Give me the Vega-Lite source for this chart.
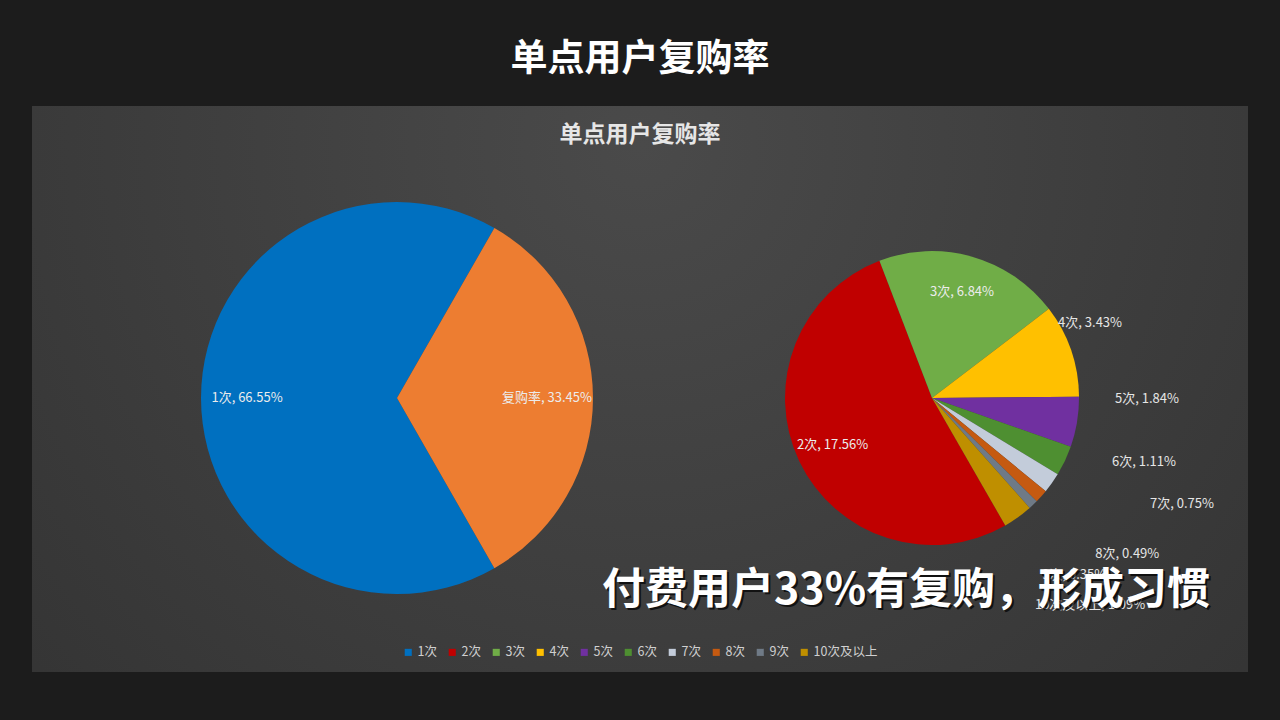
{
  "$schema": "https://vega.github.io/schema/vega-lite/v6.json",
  "width": 1280,
  "height": 720,
  "autosize": {"type": "fit", "contains": "padding"},
  "padding": {"top": 41, "left": 32, "right": 32, "bottom": 48},
  "background": "#1c1c1c",
  "config": {
    "view": {
      "fill": {"gradient": "radial", "x1": 0.5, "y1": 0.3, "r1": 0, "x2": 0.5, "y2": 0.3, "r2": 0.75, "stops": [{"offset": 0, "color": "#4a4a4a"}, {"offset": 1, "color": "#323232"}]},
      "stroke": null
    },
    "font": "Noto Sans CJK SC",
    "legend": {"layout": {"bottom": {"anchor": "middle"}}}
  },
  "title": {
    "text": "单点用户复购率",
    "subtitle": "单点用户复购率",
    "fontSize": 37,
    "fontWeight": "bold",
    "color": "#ffffff",
    "font": "Noto Sans CJK SC",
    "subtitleFontSize": 23,
    "subtitleFontWeight": "bold",
    "subtitleColor": "#e6e6e6",
    "subtitleFont": "Noto Sans CJK SC",
    "subtitlePadding": 45,
    "offset": -42,
    "anchor": "middle",
    "frame": "group"
  },
  "resolve": {"scale": {"theta": "independent"}},
  "layer": [
    {
      "data": {
        "values": [
          {"cat": "1次", "value": 66.55, "label": "1次, 66.55%"},
          {"cat": "复购率", "value": 33.45, "label": "复购率, 33.45%"}
        ]
      },
      "encoding": {
        "theta": {"field": "value", "type": "quantitative", "stack": true, "scale": {"range": [0.520, 6.803]}},
        "order": {"field": "value", "type": "quantitative", "sort": "ascending"},
        "detail": {"field": "cat"},
        "x": {"datum": "总体", "type": "nominal", "scale": {"type": "point", "domain": ["总体", "复购"], "padding": 0.6364, "align": 0.536}, "axis": null},
        "y": {"datum": "中", "type": "nominal", "scale": {"type": "point", "align": 0.516}, "axis": null}
      },
      "layer": [
        {
          "mark": {"type": "arc", "outerRadius": 196, "stroke": null},
          "encoding": {
            "color": {
              "field": "cat",
              "type": "nominal",
              "scale": {
                "domain": ["1次", "2次", "3次", "4次", "5次", "6次", "7次", "8次", "9次", "10次及以上", "复购率"],
                "range": ["#0070C0", "#C00000", "#70AD47", "#FFC000", "#7030A0", "#4E8F31", "#C3CCDA", "#C55A11", "#6F7A86", "#BF8F00", "#ED7D31"]
              },
              "legend": {
                "values": ["1次", "2次", "3次", "4次", "5次", "6次", "7次", "8次", "9次", "10次及以上"],
                "orient": "bottom",
                "direction": "horizontal",
                "offset": -26,
                "title": null,
                "symbolType": "square",
                "symbolSize": 50,
                "symbolStrokeWidth": 0,
                "labelColor": "#d0d0d0",
                "labelFontSize": 12.5,
                "labelFont": "Noto Sans CJK SC",
                "labelOffset": 3,
                "columnPadding": 9
              }
            }
          }
        },
        {
          "mark": {"type": "text", "radius": 150, "fontSize": 13, "color": "#ececec", "font": "Noto Sans CJK SC"},
          "encoding": {"text": {"field": "label"}}
        }
      ]
    },
    {
      "data": {
        "values": [
          {"cat": "2次", "n": 2, "value": 17.56, "label": "2次, 17.56%"},
          {"cat": "3次", "n": 3, "value": 6.84, "label": "3次, 6.84%"},
          {"cat": "4次", "n": 4, "value": 3.43, "label": "4次, 3.43%"},
          {"cat": "5次", "n": 5, "value": 1.84, "label": "5次, 1.84%"},
          {"cat": "6次", "n": 6, "value": 1.11, "label": "6次, 1.11%"},
          {"cat": "7次", "n": 7, "value": 0.75, "label": "7次, 0.75%"},
          {"cat": "8次", "n": 8, "value": 0.49, "label": "8次, 0.49%"},
          {"cat": "9次", "n": 9, "value": 0.35, "label": "9次, 0.35%"},
          {"cat": "10次及以上", "n": 10, "value": 1.09, "label": "10次及以上, 1.09%"}
        ]
      },
      "encoding": {
        "theta": {"field": "value", "type": "quantitative", "stack": true, "scale": {"range": [2.620, 8.903]}},
        "order": {"field": "n", "type": "quantitative", "sort": "ascending"},
        "detail": {"field": "cat"},
        "x": {"datum": "复购", "type": "nominal", "scale": {"type": "point", "domain": ["总体", "复购"], "padding": 0.6364, "align": 0.536}, "axis": null},
        "y": {"datum": "中", "type": "nominal", "scale": {"type": "point", "align": 0.516}, "axis": null}
      },
      "layer": [
        {
          "mark": {"type": "arc", "outerRadius": 147, "stroke": null},
          "encoding": {"color": {"field": "cat", "type": "nominal"}}
        },
        {
          "mark": {"type": "text", "radius": 110, "fontSize": 13, "color": "#ececec"},
          "encoding": {"text": {"condition": {"test": "datum.n <= 3", "field": "label"}, "value": ""}}
        },
        {
          "mark": {"type": "text", "radius": 147, "fontSize": 13, "color": "#e6e6e6", "align": "left", "dx": -13, "dy": -27},
          "encoding": {"text": {"condition": {"test": "datum.n == 4", "field": "label"}, "value": ""}}
        },
        {
          "mark": {"type": "text", "radius": 147, "fontSize": 13, "color": "#e6e6e6", "align": "left", "dx": 38, "dy": -23},
          "encoding": {"text": {"condition": {"test": "datum.n == 5", "field": "label"}, "value": ""}}
        },
        {
          "mark": {"type": "text", "radius": 147, "fontSize": 13, "color": "#e6e6e6", "align": "left", "dx": 47, "dy": 1},
          "encoding": {"text": {"condition": {"test": "datum.n == 6", "field": "label"}, "value": ""}}
        },
        {
          "mark": {"type": "text", "radius": 147, "fontSize": 13, "color": "#e6e6e6", "align": "left", "dx": 98, "dy": 21},
          "encoding": {"text": {"condition": {"test": "datum.n == 7", "field": "label"}, "value": ""}}
        },
        {
          "mark": {"type": "text", "radius": 147, "fontSize": 13, "color": "#e6e6e6", "align": "left", "dx": 54, "dy": 58},
          "encoding": {"text": {"condition": {"test": "datum.n == 8", "field": "label"}, "value": ""}}
        },
        {
          "mark": {"type": "text", "radius": 147, "fontSize": 13, "color": "#e6e6e6", "align": "left", "dx": 9, "dy": 70},
          "encoding": {"text": {"condition": {"test": "datum.n == 9", "field": "label"}, "value": ""}}
        },
        {
          "mark": {"type": "text", "radius": 147, "fontSize": 13, "color": "#e6e6e6", "align": "left", "dx": 17, "dy": 88},
          "encoding": {"text": {"condition": {"test": "datum.n == 10", "field": "label"}, "value": ""}}
        }
      ]
    },
    {
      "data": {"values": [{"note": "付费用户33%有复购，形成习惯"}]},
      "encoding": {
        "x": {"datum": "复购", "type": "nominal", "scale": {"type": "point", "domain": ["总体", "复购"], "padding": 0.6364, "align": 0.536}, "axis": null},
        "y": {"datum": "中", "type": "nominal", "scale": {"type": "point", "align": 0.516}, "axis": null},
        "text": {"field": "note"}
      },
      "layer": [
        {"mark": {"type": "text", "fontSize": 43, "fontWeight": "bold", "font": "Noto Sans CJK SC", "color": "#000000", "opacity": 0.7, "dx": -24, "dy": 195}},
        {"mark": {"type": "text", "fontSize": 43, "fontWeight": "bold", "font": "Noto Sans CJK SC", "color": "#ffffff", "dx": -26, "dy": 193}}
      ]
    }
  ]
}
